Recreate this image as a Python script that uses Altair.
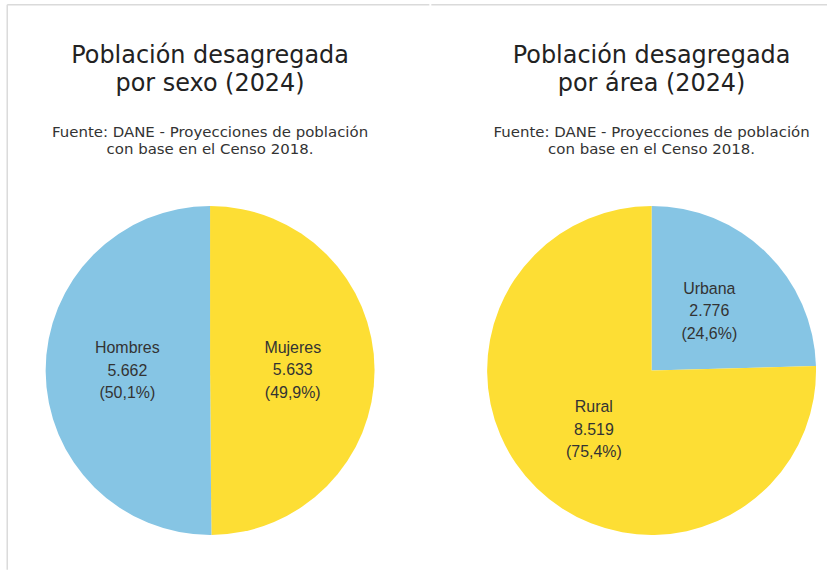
import altair as alt
import pandas as pd

# Datos
sexo_categorias = ["Mujeres", "Hombres"]
sexo_valores = [5633, 5662]
sexo_porcentajes = ["49,9%", "50,1%"]
sexo_tonos = ["amarillo", "azul"]

area_categorias = ["Urbana", "Rural"]
area_valores = [2776, 8519]
area_porcentajes = ["24,6%", "75,4%"]
area_tonos = ["azul", "amarillo"]

titulo_sexo = ["Población desagregada", "por sexo (2024)"]
titulo_area = ["Población desagregada", "por área (2024)"]
fuente = ["Fuente: DANE - Proyecciones de población", "con base en el Censo 2018."]

AZUL = "#86C5E4"
AMARILLO = "#FDDE34"
BORDE = "#DADADA"


def miles(v):
    return f"{v:,}".replace(",", ".")


def tabla(cats, vals, pcts, tonos):
    return pd.DataFrame({
        "categoria": cats,
        "valor": vals,
        "tono": tonos,
        "orden": list(range(len(cats))),
        "etiqueta": [f"{c}\n{miles(v)}\n({p})" for c, v, p in zip(cats, vals, pcts)],
    })


color = alt.Color("tono:N", scale=alt.Scale(domain=["azul", "amarillo"], range=[AZUL, AMARILLO]), legend=None)

LH = 22.5
W = 340
H = 340


def pastel(df, titulo, marco):
    base = alt.Chart(df).encode(
        theta=alt.Theta("valor:Q", stack=True),
        order=alt.Order("orden:Q"),
    )
    arco = base.mark_arc(outerRadius=165).encode(color=color)
    texto = base.mark_text(
        radius=83, font="Liberation Sans", fontSize=16, lineHeight=LH,
        lineBreak="\n", color="#333333", align="center", baseline="middle", dy=-LH,
    ).encode(text="etiqueta:N")
    uno = alt.Chart(pd.DataFrame({"m": [0]}))
    tit = uno.mark_text(
        font="DejaVu Sans", fontSize=24, lineHeight=28.5, color="#222222",
        align="center", baseline="alphabetic",
    ).encode(x=alt.value(W / 2), y=alt.value(-138.5), text=alt.value(titulo))
    sub = uno.mark_text(
        font="DejaVu Sans", fontSize=15, lineHeight=17, color="#333333",
        align="center", baseline="alphabetic",
    ).encode(x=alt.value(W / 2), y=alt.value(-64.5), text=alt.value(fuente))
    capas = [arco, texto, tit, sub]
    if marco == "izq":
        capas.append(uno.mark_rule(color=BORDE, strokeWidth=1.5).encode(
            x=alt.value(-33.5), x2=alt.value(W + 50), y=alt.value(-197)))
        capas.append(uno.mark_rule(color=BORDE, strokeWidth=1.5).encode(
            x=alt.value(-33.5), y=alt.value(-197), y2=alt.value(370)))
    else:
        capas.append(uno.mark_rule(color=BORDE, strokeWidth=1.5).encode(
            x=alt.value(-51), x2=alt.value(346), y=alt.value(-197)))
    return alt.layer(*capas).properties(width=W, height=H)


izq = pastel(tabla(sexo_categorias, sexo_valores, sexo_porcentajes, sexo_tonos), titulo_sexo, "izq")
der = pastel(tabla(area_categorias, area_valores, area_porcentajes, area_tonos), titulo_area, "der")

chart = alt.hconcat(izq, der, spacing=0).properties(
    padding={"left": 5.75, "top": 2.75, "right": 0, "bottom": 0},
).configure_view(stroke=None)

chart.save("out.html", embed_options={"renderer": "svg", "actions": False})
